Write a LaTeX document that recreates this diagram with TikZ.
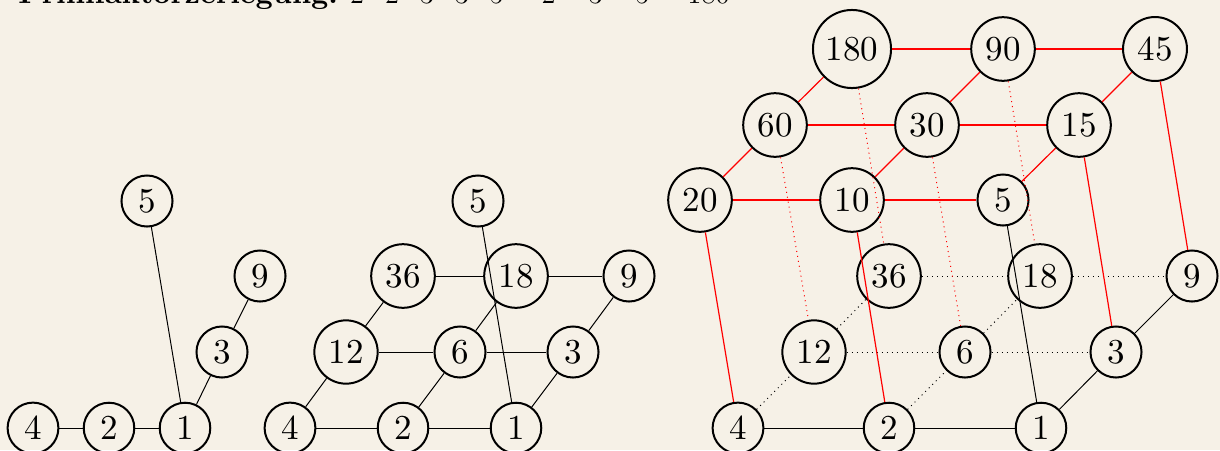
\documentclass[tikz,border=0pt]{standalone}
\usepackage{fontspec}
\newfontfamily\nodefont{lmroman10-regular.otf}
\newfontfamily\titlefont{lmroman10-bold.otf}
\definecolor{bgc}{RGB}{246,241,231}
\begin{document}
\begin{tikzpicture}[x=0.5pt,y=-0.5pt,
  v/.style={circle,draw,line width=1pt,inner sep=3.8pt,font=\nodefont\fontsize{17.5}{20}\selectfont},
  e/.style={line width=0.5pt},
  ed/.style={line width=0.5pt,dotted},
  re/.style={draw=red,line width=0.6pt},
  rd/.style={draw=red,line width=0.5pt,dotted}]
\fill[bgc] (0,0) rectangle (1220,450);
\useasboundingbox (0,0) rectangle (1220,450);
\node[anchor=base west,inner sep=0,font=\fontsize{15}{18}\selectfont] (title) at (18,3)
  {{\titlefont Primfaktorzerlegung:} $2\cdot2\cdot3\cdot3\cdot5=2^2\cdot3^2\cdot5=180$};
% group 1
\node[v] (a4) at (33,428) {4};
\node[v] (a2) at (109,428) {2};
\node[v] (a1) at (185,428) {1};
\node[v] (a3) at (222,352) {3};
\node[v] (a9) at (260,276) {9};
\node[v] (a5) at (147,201) {5};
\draw[e] (a4) -- (a2);
\draw[e] (a2) -- (a1);
\draw[e] (a1) -- (a3);
\draw[e] (a3) -- (a9);
\draw[e] (a1) -- (a5);
% group 2
\node[v] (b4) at (290,428) {4};
\node[v] (b2) at (403,428) {2};
\node[v] (b1) at (516,428) {1};
\node[v] (b12) at (346,352) {12};
\node[v] (b6) at (460,352) {6};
\node[v] (b3) at (573,352) {3};
\node[v] (b36) at (403,276) {36};
\node[v] (b18) at (516,276) {18};
\node[v] (b9) at (629,276) {9};
\node[v] (b5) at (478,201) {5};
\draw[e] (b4) -- (b2);
\draw[e] (b2) -- (b1);
\draw[e] (b4) -- (b12);
\draw[e] (b2) -- (b6);
\draw[e] (b1) -- (b3);
\draw[e] (b12) -- (b6);
\draw[e] (b6) -- (b3);
\draw[e] (b12) -- (b36);
\draw[e] (b6) -- (b18);
\draw[e] (b3) -- (b9);
\draw[e] (b36) -- (b18);
\draw[e] (b18) -- (b9);
\draw[e] (b1) -- (b5);
% group 3
\node[v] (c4) at (738,428) {4};
\node[v] (c2) at (889,428) {2};
\node[v] (c1) at (1041,428) {1};
\node[v] (c12) at (814,352) {12};
\node[v] (c6) at (965,352) {6};
\node[v] (c3) at (1116,352) {3};
\node[v] (c36) at (889,276) {36};
\node[v] (c18) at (1040,276) {18};
\node[v] (c9) at (1192,276) {9};
\node[v] (c20) at (700,200) {20};
\node[v] (c10) at (852,200) {10};
\node[v] (c5) at (1003,200) {5};
\node[v] (c60) at (775,125) {60};
\node[v] (c30) at (927,125) {30};
\node[v] (c15) at (1079,125) {15};
\node[v] (c180) at (852,49) {180};
\node[v] (c90) at (1003,49) {90};
\node[v] (c45) at (1155,49) {45};
\draw[e] (c4) -- (c2);
\draw[e] (c2) -- (c1);
\draw[e] (c1) -- (c3);
\draw[e] (c3) -- (c9);
\draw[e] (c1) -- (c5);
\draw[ed] (c4) -- (c12);
\draw[ed] (c2) -- (c6);
\draw[ed] (c12) -- (c6);
\draw[ed] (c6) -- (c3);
\draw[ed] (c12) -- (c36);
\draw[ed] (c6) -- (c18);
\draw[ed] (c36) -- (c18);
\draw[ed] (c18) -- (c9);
\draw[re] (c20) -- (c10);
\draw[re] (c10) -- (c5);
\draw[re] (c20) -- (c60);
\draw[re] (c10) -- (c30);
\draw[re] (c5) -- (c15);
\draw[re] (c60) -- (c30);
\draw[re] (c30) -- (c15);
\draw[re] (c60) -- (c180);
\draw[re] (c30) -- (c90);
\draw[re] (c15) -- (c45);
\draw[re] (c180) -- (c90);
\draw[re] (c90) -- (c45);
\draw[re] (c20) -- (c4);
\draw[re] (c10) -- (c2);
\draw[re] (c15) -- (c3);
\draw[re] (c45) -- (c9);
\draw[rd] (c60) -- (c12);
\draw[rd] (c30) -- (c6);
\draw[rd] (c180) -- (c36);
\draw[rd] (c90) -- (c18);
\end{tikzpicture}
\end{document}
